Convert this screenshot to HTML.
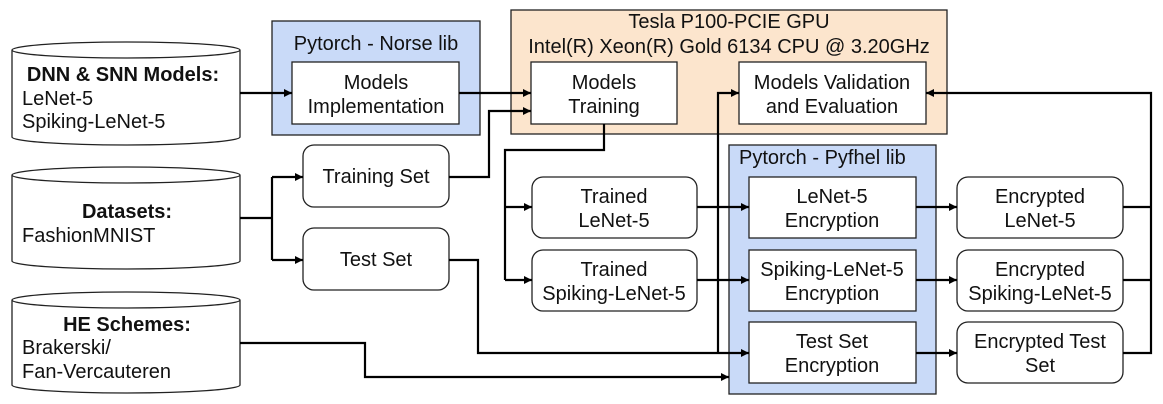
<!DOCTYPE html>
<html><head><style>html,body{margin:0;padding:0;background:#fff}svg{display:block}text{font-family:"Liberation Sans",Arial,sans-serif;font-size:20px;fill:#111;dominant-baseline:central}</style></head><body>
<svg width="1163" height="404" viewBox="0 0 1163 404" xmlns="http://www.w3.org/2000/svg">
<defs><marker id="a" viewBox="0 0 10 10" refX="10" refY="5" markerWidth="10" markerHeight="8" markerUnits="userSpaceOnUse" orient="auto"><path d="M0,0L10,5L0,10z" fill="#000"/></marker></defs>
<g stroke="#222" stroke-width="1.3">
<path d="M12,50 L12,137 A114,8 0 0 0 240,137 L240,50 A114,8 0 0 0 12,50 A114,8 0 0 0 240,50" fill="#fff"/>
<path d="M12,175 L12,261 A114,8 0 0 0 240,261 L240,175 A114,8 0 0 0 12,175 A114,8 0 0 0 240,175" fill="#fff"/>
<path d="M12,300 L12,385 A114,8 0 0 0 240,385 L240,300 A114,8 0 0 0 12,300 A114,8 0 0 0 240,300" fill="#fff"/>
<rect x="272" y="21" width="208" height="114" fill="#c9daf8"/>
<rect x="292" y="62" width="167" height="62" fill="#fff"/>
<rect x="511" y="10" width="436" height="124" fill="#fce5cd"/>
<rect x="531" y="62" width="146" height="62" fill="#fff"/>
<rect x="739" y="62" width="187" height="62" fill="#fff"/>
<rect x="303" y="145" width="146" height="62" rx="11" fill="#fff"/>
<rect x="303" y="228" width="146" height="62" rx="11" fill="#fff"/>
<rect x="532" y="177" width="165" height="61" rx="11" fill="#fff"/>
<rect x="532" y="250" width="165" height="61" rx="11" fill="#fff"/>
<rect x="729" y="145" width="207" height="249" fill="#c9daf8"/>
<rect x="749" y="177" width="167" height="61" fill="#fff"/>
<rect x="749" y="250" width="167" height="61" fill="#fff"/>
<rect x="749" y="322" width="167" height="61" fill="#fff"/>
<rect x="957" y="177" width="166" height="61" rx="11" fill="#fff"/>
<rect x="957" y="250" width="166" height="61" rx="11" fill="#fff"/>
<rect x="957" y="322" width="166" height="61" rx="11" fill="#fff"/>
</g>
<g stroke="#000" stroke-width="2.2" fill="none">
<path d="M240,93H292" marker-end="url(#a)"/>
<path d="M459,93H531" marker-end="url(#a)"/>
<path d="M449,177H489V111H531" marker-end="url(#a)"/>
<path d="M240,218H272"/>
<path d="M272,177V260"/>
<path d="M272,177H303" marker-end="url(#a)"/>
<path d="M272,260H303" marker-end="url(#a)"/>
<path d="M604,124V150H505V280"/>
<path d="M505,207H532" marker-end="url(#a)"/>
<path d="M505,280H532" marker-end="url(#a)"/>
<path d="M697,207H749" marker-end="url(#a)"/>
<path d="M697,280H749" marker-end="url(#a)"/>
<path d="M916,207H957" marker-end="url(#a)"/>
<path d="M916,280H957" marker-end="url(#a)"/>
<path d="M916,353H957" marker-end="url(#a)"/>
<path d="M449,260H478V353H749" marker-end="url(#a)"/>
<path d="M718,353V93H739" marker-end="url(#a)"/>
<path d="M240,343H365V377H729" marker-end="url(#a)"/>
<path d="M1123,207H1151M1123,280H1151M1123,353H1151V93H926" marker-end="url(#a)"/>
</g>
<g text-anchor="middle">
<text x="123" y="75" font-weight="bold">DNN &amp; SNN Models:</text>
<text x="127" y="212" font-weight="bold">Datasets:</text>
<text x="127" y="325" font-weight="bold">HE Schemes:</text>
<text x="376" y="44">Pytorch - Norse lib</text>
<text x="376" y="83">Models</text><text x="376" y="107">Implementation</text>
<text x="729" y="22">Tesla P100-PCIE GPU</text>
<text x="729" y="47">Intel(R) Xeon(R) Gold 6134 CPU @ 3.20GHz</text>
<text x="604" y="83">Models</text><text x="604" y="107">Training</text>
<text x="832" y="83">Models Validation</text><text x="832" y="107">and Evaluation</text>
<text x="376" y="177">Training Set</text>
<text x="376" y="260">Test Set</text>
<text x="614" y="197">Trained</text><text x="614" y="221">LeNet-5</text>
<text x="614" y="270">Trained</text><text x="614" y="294">Spiking-LeNet-5</text>
<text x="832" y="197">LeNet-5</text><text x="832" y="221">Encryption</text>
<text x="832" y="270">Spiking-LeNet-5</text><text x="832" y="294">Encryption</text>
<text x="832" y="342">Test Set</text><text x="832" y="366">Encryption</text>
<text x="1040" y="197">Encrypted</text><text x="1040" y="221">LeNet-5</text>
<text x="1040" y="270">Encrypted</text><text x="1040" y="294">Spiking-LeNet-5</text>
<text x="1040" y="342">Encrypted Test</text><text x="1040" y="366">Set</text>
</g>
<text x="22" y="99">LeNet-5</text>
<text x="22" y="122">Spiking-LeNet-5</text>
<text x="22" y="236">FashionMNIST</text>
<text x="22" y="348">Brakerski/</text>
<text x="22" y="372">Fan-Vercauteren</text>
<text x="739" y="158">Pytorch - Pyfhel lib</text>
</svg>
</body></html>
